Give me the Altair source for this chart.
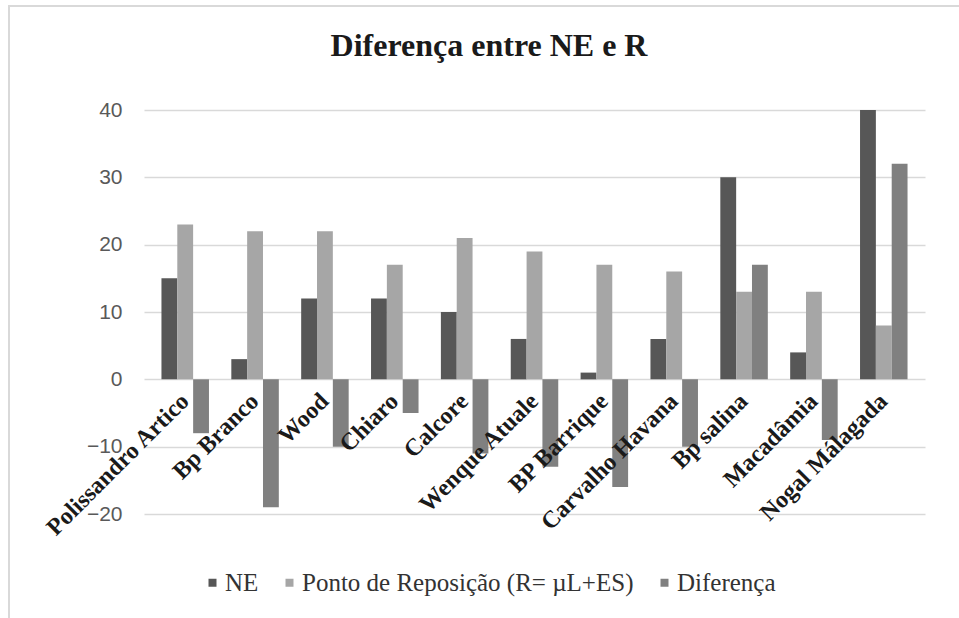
import altair as alt
import pandas as pd

title_text = "Diferença entre NE e R"
categories = ["Polissandro Artico", "Bp Branco", "Wood", "Chiaro", "Calcore",
              "Wenque Atuale", "BP Barrique", "Carvalho Havana", "Bp salina",
              "Macadâmia", "Nogal Málagada"]
series_names = ["NE", "Ponto de Reposição (R= µL+ES)", "Diferença"]
ne = [15, 3, 12, 12, 10, 6, 1, 6, 30, 4, 40]
r = [23, 22, 22, 17, 21, 19, 17, 16, 13, 13, 8]
dif = [-8, -19, -10, -5, -11, -13, -16, -10, 17, -9, 32]
y_ticks = [-20, -10, 0, 10, 20, 30, 40]
colors = ["#575757", "#a6a6a6", "#808080"]

rows = []
for i, c in enumerate(categories):
    for s, vals in zip(series_names, [ne, r, dif]):
        rows.append({"categoria": c, "serie": s, "valor": vals[i]})
df = pd.DataFrame(rows)
lab = pd.DataFrame({"categoria": categories})
one = pd.DataFrame({"t": [title_text]})

SERIF = "Liberation Serif"
SANS = "Liberation Sans"

xenc = alt.X("categoria:N", sort=categories, axis=None,
             scale=alt.Scale(paddingInner=0.32, paddingOuter=0.25))

bars = alt.Chart(df).mark_bar().encode(
    x=xenc,
    xOffset=alt.XOffset("serie:N", sort=series_names),
    y=alt.Y("valor:Q", scale=alt.Scale(domain=[-20, 40], nice=False, zero=False),
            axis=alt.Axis(values=y_ticks, title=None, domain=False, ticks=False,
                          labelFont=SANS, labelFontSize=21, labelColor="#595959",
                          labelPadding=22, gridColor="#d9d9d9", gridWidth=1.5)),
    y2=alt.datum(0),
    color=alt.Color("serie:N", sort=series_names,
                    scale=alt.Scale(domain=series_names, range=colors),
                    legend=alt.Legend(title=None, orient="none", direction="horizontal",
                                      legendX=56, legendY=460, labelLimit=0,
                                      symbolType="square", symbolSize=64,
                                      labelOffset=0,
                                      labelFont=SERIF, labelFontSize=25,
                                      labelColor="#333333", columnPadding=18,
                                      symbolStrokeWidth=0)),
)

labels = alt.Chart(lab).mark_text(
    angle=315, align="right", baseline="middle", dx=-13, dy=13,
    font=SERIF, fontWeight="bold", fontSize=24, color="#1a1a1a"
).encode(
    x=xenc,
    y=alt.datum(0),
    text="categoria:N",
)

title = alt.Chart(one).mark_text(
    font=SERIF, fontSize=32, fontWeight="bold", color="#1a1a1a",
    align="center", baseline="alphabetic"
).encode(x=alt.value(345), y=alt.value(-54), text="t:N")

border = alt.Chart(one).mark_rect(fill=None, stroke="#d9d9d9", strokeWidth=2).encode(
    x=alt.value(-135), x2=alt.value(1000), y=alt.value(-104), y2=alt.value(700)
)

chart = alt.layer(border, bars, labels, title).properties(
    width=781, height=404,
    autosize=alt.AutoSizeParams(type="none"),
    padding={"left": 144, "top": 110, "right": 34, "bottom": 104},
    background="white",
).configure_view(stroke=None).configure_legend(labelFont=SERIF)

chart.save("out.html", embed_options={"renderer": "svg", "actions": False})
